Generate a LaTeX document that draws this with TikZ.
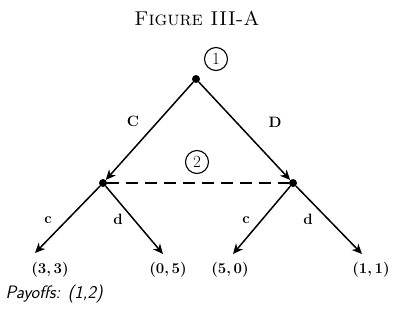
\documentclass[tikz,border=0pt]{standalone}
\usepackage{xcolor}
\usepackage{tikz}
\usetikzlibrary{arrows.meta,positioning}

\begin{document}
\begin{tikzpicture}[
  x=1pt,y=-1pt,
  dot/.style={circle,fill,inner sep=0pt,minimum size=8pt},
  player/.style={draw,circle,line width=1.1pt,inner sep=0pt,minimum size=23pt,font=\fontsize{17}{19}\selectfont},
  move/.style={font=\bfseries\fontsize{15}{17}\selectfont},
  payoff/.style={font=\bfseries\fontsize{15}{17}\selectfont},
  arrow/.style={-{Stealth[length=10pt,width=9pt,inset=3pt]},line width=1.5pt}
]
\useasboundingbox (0,0) rectangle (394,322);
\node[font=\fontsize{20}{23}\selectfont] (title) at (197,18) {\textsc{Figure III-A}};
% decision nodes
\node[dot] (root) at (196,79) {};
\node[player] (p1) at (216,59) {1};
\node[dot] (left) at (103,183) {};
\node[dot] (right) at (293,183) {};
\node[player] (p2) at (197,162) {2};
% arrow ends
\coordinate (lc) at (35,253);
\coordinate (ld) at (163,254);
\coordinate (rc) at (233,254);
\coordinate (rd) at (362,254);
% payoffs
\node[payoff] (pcc) at (50,270) {(3,\,3)};
\node[payoff] (pcd) at (168,270) {(0,\,5)};
\node[payoff] (pdc) at (230,270) {(5,\,0)};
\node[payoff] (pdd) at (371,270) {(1,\,1)};
\node[font=\sffamily\itshape\fontsize{18}{20}\selectfont,anchor=west] (pay) at (2,294) {Payoffs: (1,2)};
% moves
\draw[arrow] (root) -- (left);
\draw[arrow] (root) -- (right);
\node[move] (mC) at (133,121) {C};
\node[move] (mD) at (275,122) {D};
\draw[line width=1.5pt,dash pattern=on 12pt off 7pt] (left) -- (right);
\draw[arrow] (left) -- (lc);
\draw[arrow] (left) -- (ld);
\draw[arrow] (right) -- (rc);
\draw[arrow] (right) -- (rd);
\node[move] (mlc) at (48,220) {c};
\node[move] (mld) at (118,219) {d};
\node[move] (mrc) at (246,220) {c};
\node[move] (mrd) at (308,219) {d};
\end{tikzpicture}
\end{document}
